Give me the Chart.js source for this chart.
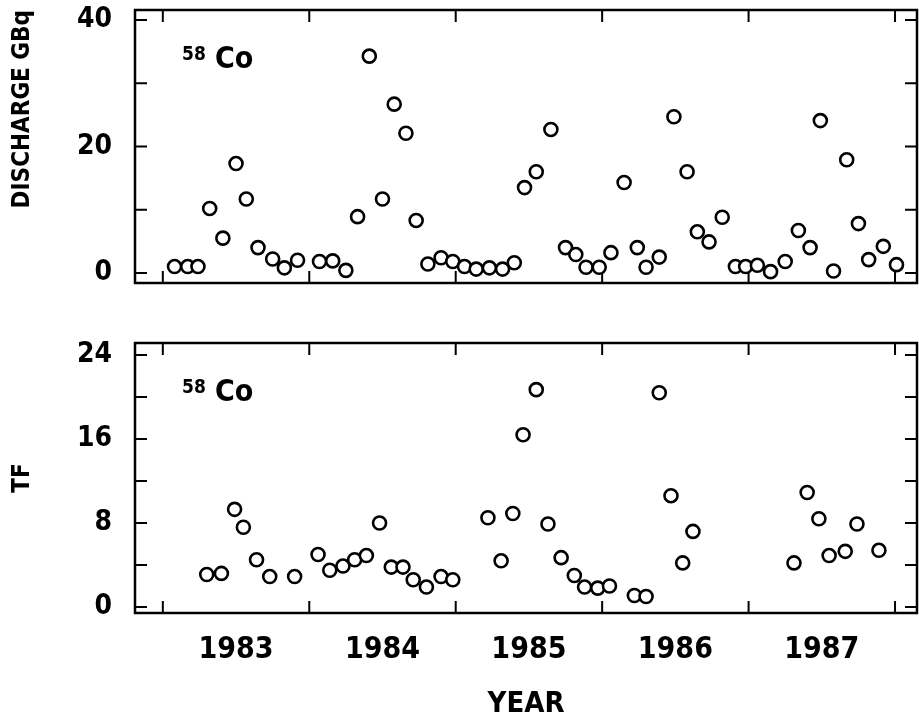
<!DOCTYPE html>
<html>
<head>
<meta charset="utf-8">
<script src="https://cdn.jsdelivr.net/npm/chart.js@4/dist/chart.umd.min.js"></script>
<style>
    html, body { margin: 0; padding: 0; background: #fff; }
    #wrap { position: relative; width: 919px; height: 727px; overflow: hidden; }
    #topBox { position: absolute; left: 0; top: 0; }
    #bottomBox { position: absolute; left: 0; top: 300px; }
</style>
</head>
<body>
<div id="wrap">
    <div id="topBox"><canvas id="dischargeChart" width="919" height="300"></canvas></div>
    <div id="bottomBox"><canvas id="tfChart" width="919" height="427"></canvas></div>
</div>
<script>
// 58Co discharge (GBq), monthly values
const dischargeYears = [
    1983.08, 1983.17, 1983.24, 1983.32, 1983.41, 1983.50, 1983.57, 1983.65, 1983.75, 1983.83, 1983.92,
    1984.07, 1984.16, 1984.25, 1984.33, 1984.41, 1984.50, 1984.58, 1984.66, 1984.73, 1984.81, 1984.90, 1984.98,
    1985.06, 1985.14, 1985.23, 1985.32, 1985.40, 1985.47, 1985.55, 1985.65, 1985.75, 1985.82, 1985.89, 1985.98,
    1986.06, 1986.15, 1986.24, 1986.30, 1986.39, 1986.49, 1986.58, 1986.65, 1986.73, 1986.82, 1986.91, 1986.98,
    1987.06, 1987.15, 1987.25, 1987.34, 1987.42, 1987.49, 1987.58, 1987.67, 1987.75, 1987.82, 1987.92, 1988.01
];
const dischargeValues = [
    1.0, 1.0, 1.0, 10.2, 5.5, 17.3, 11.7, 4.0, 2.2, 0.8, 2.0,
    1.8, 1.9, 0.4, 8.9, 34.3, 11.7, 26.7, 22.1, 8.3, 1.4, 2.4, 1.8,
    1.0, 0.6, 0.8, 0.6, 1.6, 13.5, 16.0, 22.7, 4.0, 2.9, 0.9, 0.9,
    3.2, 14.3, 4.0, 0.9, 2.5, 24.7, 16.0, 6.5, 4.9, 8.8, 1.0, 1.0,
    1.2, 0.2, 1.8, 6.7, 4.0, 24.1, 0.3, 17.9, 7.8, 2.1, 4.2, 1.3
];

// 58Co TF values
const tfYears = [
    1983.30, 1983.40, 1983.49, 1983.55, 1983.64, 1983.73, 1983.90,
    1984.06, 1984.14, 1984.23, 1984.31, 1984.39, 1984.48, 1984.56, 1984.64, 1984.71, 1984.80, 1984.90, 1984.98,
    1985.22, 1985.31, 1985.39, 1985.46, 1985.55, 1985.63, 1985.72, 1985.81, 1985.88, 1985.97,
    1986.05, 1986.22, 1986.30, 1986.39, 1986.47, 1986.55, 1986.62,
    1987.31, 1987.40, 1987.48, 1987.55, 1987.66, 1987.74, 1987.89
];
const tfValues = [
    3.1, 3.2, 9.3, 7.6, 4.5, 2.9, 2.9,
    5.0, 3.5, 3.9, 4.5, 4.9, 8.0, 3.8, 3.8, 2.6, 1.9, 2.9, 2.6,
    8.5, 4.4, 8.9, 16.4, 20.7, 7.9, 4.7, 3.0, 1.9, 1.8,
    2.0, 1.1, 1.0, 20.4, 10.6, 4.2, 7.2,
    4.2, 10.9, 8.4, 4.9, 5.3, 7.9, 5.4
];

const yearLabels = [1983, 1984, 1985, 1986, 1987];
const dischargeTicks = [0, 10, 20, 30, 40];
const dischargeTickLabels = [0, 20, 40];
const tfTicks = [0, 4, 8, 12, 16, 20, 24];
const tfTickLabels = [0, 8, 16, 24];

Chart.defaults.font.family = "'DejaVu Sans Condensed', 'DejaVu Sans', sans-serif";
Chart.defaults.font.weight = 'bold';
Chart.defaults.color = '#000';

const FONT = "'DejaVu Sans Condensed', 'DejaVu Sans', sans-serif";

// box around the plot with inward tick marks, plus the 58Co label
const framePlugin = {
    id: 'frame',
    beforeDatasetsDraw(chart, args, opts) {
        const { ctx, chartArea: a, scales } = chart;
        ctx.save();
        ctx.strokeStyle = '#000';
        ctx.lineWidth = 2.5;
        ctx.strokeRect(a.left, a.top, a.right - a.left, a.bottom - a.top);
        ctx.lineWidth = 2;
        ctx.beginPath();
        opts.yTicks.forEach(v => {
            const py = scales.y.getPixelForValue(v);
            ctx.moveTo(a.left, py); ctx.lineTo(a.left + 12, py);
            ctx.moveTo(a.right, py); ctx.lineTo(a.right - 12, py);
        });
        yearLabels.concat([yearLabels[yearLabels.length - 1] + 1]).forEach(yr => {
            const px = scales.x.getPixelForValue(yr);
            ctx.moveTo(px, a.top); ctx.lineTo(px, a.top + 12);
            ctx.moveTo(px, a.bottom); ctx.lineTo(px, a.bottom - 12);
        });
        ctx.stroke();
        ctx.restore();
    },
    afterDraw(chart) {
        const { ctx, chartArea: a } = chart;
        ctx.save();
        ctx.fillStyle = '#000';
        ctx.textBaseline = 'alphabetic';
        ctx.font = 'bold 19px ' + FONT;
        ctx.fillText('58', a.left + 47, a.top + 50);
        ctx.font = 'bold 30px ' + FONT;
        ctx.fillText('Co', a.left + 80, a.top + 58);
        ctx.restore();
    }
};

function makeData(xs, ys) {
    return xs.map((x, i) => ({ x: x, y: ys[i] }));
}

function panelOptions(cfg) {
    return {
        responsive: false,
        animation: false,
        layout: { padding: cfg.padding, autoPadding: false },
        plugins: {
            legend: { display: false },
            tooltip: { enabled: false },
            frame: { yTicks: cfg.yTicks }
        },
        scales: {
            x: {
                type: 'linear',
                min: 1982.81,
                max: 1988.15,
                display: cfg.showX,
                grid: { display: false, drawTicks: false },
                border: { display: false },
                afterBuildTicks: scale => {
                    scale.ticks = yearLabels.map(y => ({ value: y + 0.5 }));
                },
                afterFit: scale => {
                    if (cfg.showX) scale.height = 114;
                    scale.paddingLeft = 0;
                    scale.paddingRight = 0;
                },
                ticks: {
                    padding: 19,
                    maxRotation: 0,
                    autoSkip: false,
                    font: { size: 30, weight: 'bold' },
                    callback: v => String(Math.floor(v))
                },
                title: {
                    display: cfg.showX,
                    text: 'YEAR',
                    font: { size: 29, weight: 'bold' },
                    padding: { top: 0, bottom: 5 }
                }
            },
            y: {
                type: 'linear',
                min: cfg.yMin,
                max: cfg.yMax,
                grid: { display: false, drawTicks: false },
                border: { display: false },
                afterBuildTicks: scale => {
                    scale.ticks = cfg.yTicks.map(v => ({ value: v }));
                },
                afterFit: scale => {
                    scale.width = 135;
                    scale.paddingTop = 0;
                    scale.paddingBottom = 0;
                },
                ticks: {
                    padding: 23,
                    autoSkip: false,
                    font: { size: 28, weight: 'bold' },
                    callback: v => cfg.yLabels.includes(v) ? String(v) : ''
                },
                title: {
                    display: true,
                    text: cfg.title,
                    align: cfg.titleAlign,
                    font: { size: 24, weight: 'bold' },
                    padding: { top: 8, bottom: 0 }
                }
            }
        }
    };
}

function pointDataset(data) {
    return {
        data: data,
        pointRadius: 6.5,
        pointBorderWidth: 2.6,
        pointBorderColor: '#000',
        pointBackgroundColor: '#fff',
        showLine: false
    };
}

new Chart(document.getElementById('dischargeChart'), {
    type: 'scatter',
    data: { datasets: [pointDataset(makeData(dischargeYears, dischargeValues))] },
    options: panelOptions({
        padding: { top: 10, bottom: 17, left: 0, right: 2 },
        showX: false,
        yMin: -1.6, yMax: 41.6,
        yTicks: dischargeTicks,
        yLabels: dischargeTickLabels,
        title: 'DISCHARGE GBq',
        titleAlign: 'end'
    }),
    plugins: [framePlugin]
});

new Chart(document.getElementById('tfChart'), {
    type: 'scatter',
    data: { datasets: [pointDataset(makeData(tfYears, tfValues))] },
    options: panelOptions({
        padding: { top: 43, bottom: 0, left: 0, right: 2 },
        showX: true,
        yMin: -0.57, yMax: 25.14,
        yTicks: tfTicks,
        yLabels: tfTickLabels,
        title: 'TF',
        titleAlign: 'center'
    }),
    plugins: [framePlugin]
});
</script>
</body>
</html>
